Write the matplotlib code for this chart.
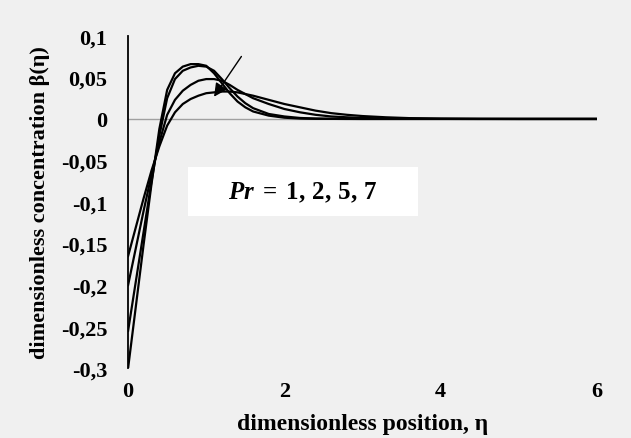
import matplotlib
matplotlib.use("Agg")
import matplotlib.pyplot as plt
from matplotlib.patches import Rectangle
from matplotlib.ticker import FuncFormatter

plt.rcParams['font.family'] = ['Liberation Serif', 'DejaVu Serif']
plt.rcParams['mathtext.fontset'] = 'custom'
plt.rcParams['mathtext.rm'] = 'Liberation Serif:bold'
plt.rcParams['mathtext.it'] = 'Liberation Serif:italic:bold'

# dimensionless position
eta = [0, 0.1, 0.2, 0.3, 0.4, 0.5, 0.6, 0.7, 0.8, 0.9, 1.0, 1.1, 1.2, 1.3, 1.4,
       1.5, 1.6, 1.8, 2.0, 2.2, 2.4, 2.6, 2.8, 3.0, 3.3, 3.6, 4.0, 4.5, 5.0, 6.0]

# concentration profiles for each Prandtl number
beta_pr7 = [-0.300, -0.225, -0.150, -0.078, -0.012, 0.035, 0.055, 0.063, 0.066, 0.066,
            0.064, 0.055, 0.043, 0.031, 0.021, 0.014, 0.009, 0.004, 0.0015, 0.0005,
            0.0002, 0.0001, 0, 0, 0, 0, 0, 0, 0, 0]
beta_pr5 = [-0.255, -0.195, -0.135, -0.075, -0.020, 0.025, 0.048, 0.058, 0.062, 0.064,
            0.063, 0.058, 0.048, 0.037, 0.027, 0.019, 0.013, 0.006, 0.003, 0.0012,
            0.0005, 0.0002, 0.0001, 0, 0, 0, 0, 0, 0, 0]
beta_pr2 = [-0.200, -0.155, -0.110, -0.067, -0.028, 0.005, 0.023, 0.034, 0.041, 0.046,
            0.048, 0.048, 0.046, 0.041, 0.035, 0.030, 0.025, 0.018, 0.012, 0.008,
            0.005, 0.003, 0.002, 0.0012, 0.0006, 0.0003, 0.0001, 0, 0, 0]
beta_pr1 = [-0.165, -0.130, -0.095, -0.062, -0.033, -0.008, 0.008, 0.018, 0.024, 0.028,
            0.031, 0.032, 0.033, 0.033, 0.032, 0.030, 0.028, 0.023, 0.018, 0.014,
            0.010, 0.007, 0.005, 0.0035, 0.002, 0.001, 0.0004, 0.0001, 0, 0]

bg = '#f0f0f0'
fig = plt.figure(figsize=(6.31, 4.39), dpi=100, facecolor=bg)
ax = fig.add_axes([0.203, 0.159, 0.743, 0.757], facecolor=bg)

ax.axhline(0, color='#a0a0a0', lw=1.0, zorder=1)
for beta in (beta_pr7, beta_pr5, beta_pr2, beta_pr1):
    ax.plot(eta, beta, color='black', lw=1.6, zorder=3)

ax.annotate('', xy=(1.08, 0.024), xytext=(1.47, 0.078),
            arrowprops=dict(arrowstyle='-|>', color='black', lw=1.0,
                            mutation_scale=20), zorder=4)

ax.add_patch(Rectangle((0.128, 0.458), 0.49, 0.147, transform=ax.transAxes,
                       facecolor='white', edgecolor='none', zorder=2))
ax.text(0.373, 0.53, r'$Pr\;=\;1,\,2,\,5,\,7$', transform=ax.transAxes,
        ha='center', va='center', fontsize=18, zorder=5)

ax.set_xlim(0, 6)
ax.set_ylim(-0.3, 0.1)
ax.set_xticks([0, 2, 4, 6])
ax.set_yticks([0.1, 0.05, 0, -0.05, -0.1, -0.15, -0.2, -0.25, -0.3])
ax.yaxis.set_major_formatter(FuncFormatter(lambda v, p: ('%g' % round(v, 2)).replace('.', ',')))
ax.tick_params(length=0, labelsize=16)
ax.tick_params(axis='y', pad=15)
ax.tick_params(axis='x', pad=9)
for lbl in ax.get_xticklabels() + ax.get_yticklabels():
    lbl.set_fontweight('bold')

for side in ('top', 'right', 'bottom'):
    ax.spines[side].set_visible(False)
ax.spines['left'].set_color('black')
ax.spines['left'].set_linewidth(1.3)

ax.set_xlabel('dimensionless position, η', fontsize=17, fontweight='bold', labelpad=9)
ax.set_ylabel('dimensionless concentration β(η)', fontsize=16, fontweight='bold', labelpad=8)

fig.savefig('out.png', dpi=100, facecolor=bg)
